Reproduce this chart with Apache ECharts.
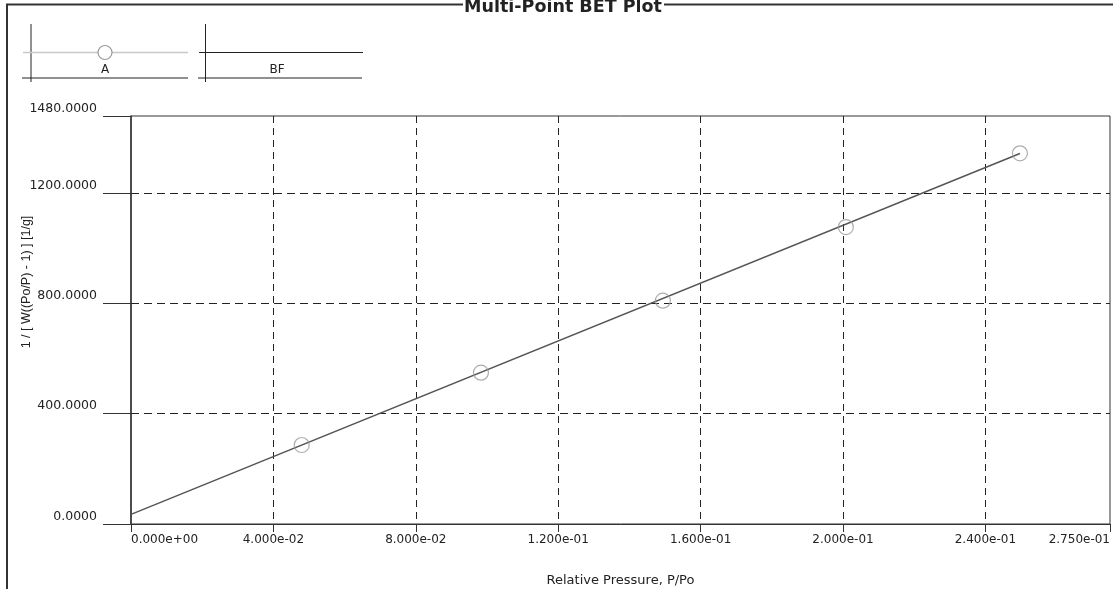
<!DOCTYPE html>
<html>
<head>
<meta charset="utf-8">
<title>Multi-Point BET Plot</title>
<script src="https://cdn.jsdelivr.net/npm/echarts@6/dist/echarts.min.js"></script>
<style>
  html, body { margin: 0; padding: 0; background: #ffffff; }
  #chart { width: 1113px; height: 589px; }
</style>
</head>
<body>
<div id="chart"></div>
<script>
// Measured points (series A): relative pressure vs 1 / [W((Po/P) - 1)]
const pressure = [0.04795, 0.0983, 0.1494, 0.2008, 0.2497];
const invW = [286.5, 548.8, 810.0, 1077.0, 1344.6];

// BET fit line (series BF), from P/Po = 0 to the last measured point
const bfX = [0, 0.2497];
const bfY = [35, 1344];

// Axis ranges
const xMin = 0, xMax = 0.275, xStep = 0.04;
const yMin = 0, yMax = 1480, yStep = 400;

const title = 'Multi-Point BET Plot';
const xName = 'Relative Pressure, P/Po';
const yName = '1 / [ W((Po/P) - 1) ] [1/g]';
const legendNames = ['A', 'BF'];

function sci(v) {
  // 4.000e-02 style, two-digit exponent with sign
  const s = Number(v).toExponential(3);
  const m = s.match(/^(-?[\d.]+)e([+-])(\d+)$/);
  if (!m) return s;
  const exp = m[3].length < 2 ? '0' + m[3] : m[3];
  return m[1] + 'e' + m[2] + exp;
}

const ink = '#333';
const labelFont = 'DejaVu Sans';

const chart = echarts.init(document.getElementById('chart'), null, { renderer: 'canvas' });

const option = {
  animation: false,
  backgroundColor: '#ffffff',
  grid: {
    left: 131, top: 116, right: 3, bottom: 65,
    containLabel: false,
    outerBoundsMode: 'none',
    show: true, borderColor: ink, borderWidth: 1, backgroundColor: 'transparent'
  },
  xAxis: {
    type: 'value',
    min: xMin, max: xMax, interval: xStep,
    name: xName,
    nameLocation: 'middle',
    nameGap: 50,
    nameTextStyle: { fontFamily: labelFont, fontSize: 13, color: '#222' },
    axisLine: { show: true, onZero: false, lineStyle: { color: ink, width: 1 } },
    axisTick: { show: true, inside: false, length: 8, lineStyle: { color: ink, width: 1 } },
    axisLabel: {
      fontFamily: labelFont, fontSize: 12, color: '#222', margin: 10,
      formatter: sci,
      alignMinLabel: 'left', alignMaxLabel: 'right',
      showMinLabel: true, showMaxLabel: true
    },
    splitLine: {
      show: true, showMinLine: false, showMaxLine: false,
      lineStyle: { color: '#222', width: 1, type: [7, 5] }
    }
  },
  yAxis: {
    type: 'value',
    min: yMin, max: yMax, interval: yStep,
    axisLine: { show: true, onZero: false, lineStyle: { color: ink, width: 1.5 } },
    axisTick: { show: true, inside: false, length: 28, lineStyle: { color: ink, width: 1 } },
    axisLabel: {
      fontFamily: labelFont, fontSize: 12.5, color: '#222', margin: 34,
      formatter: v => Number(v).toFixed(4),
      verticalAlign: 'bottom',
      lineHeight: 15,
      showMinLabel: true, showMaxLabel: true
    },
    splitLine: {
      show: true, showMinLine: false, showMaxLine: false,
      lineStyle: { color: '#222', width: 1, type: [8, 5] }
    }
  },
  series: [
    {
      name: legendNames[1],
      type: 'line',
      data: bfX.map((x, i) => [x, bfY[i]]),
      showSymbol: false,
      symbol: 'none',
      lineStyle: { color: '#555', width: 1.5 },
      z: 2
    },
    {
      name: legendNames[0],
      type: 'scatter',
      data: pressure.map((x, i) => [x, invW[i]]),
      symbol: 'circle',
      symbolSize: 15,
      itemStyle: { color: 'rgba(255,255,255,0)', borderColor: '#999', borderWidth: 1.2 },
      z: 3
    }
  ],
  graphic: [
    // enclosing group frame with the title set into its top edge
    { type: 'line', shape: { x1: 7, y1: 4.5, x2: 7, y2: 589 }, style: { stroke: ink, lineWidth: 2 }, silent: true },
    { type: 'line', shape: { x1: 6, y1: 4.5, x2: 463, y2: 4.5 }, style: { stroke: ink, lineWidth: 2 }, silent: true },
    { type: 'line', shape: { x1: 664, y1: 4.5, x2: 1113, y2: 4.5 }, style: { stroke: ink, lineWidth: 2 }, silent: true },
    {
      type: 'text', x: 563, y: 7, silent: true,
      style: {
        text: title, align: 'center', verticalAlign: 'middle',
        font: 'bold 17.5px "DejaVu Sans"', fill: '#222'
      }
    },
    // legend entry: A
    { type: 'line', shape: { x1: 31, y1: 24, x2: 31, y2: 82 }, style: { stroke: '#222', lineWidth: 1 }, silent: true },
    { type: 'line', shape: { x1: 23, y1: 52.5, x2: 188, y2: 52.5 }, style: { stroke: '#c8c8c8', lineWidth: 1.5 }, silent: true },
    { type: 'circle', shape: { cx: 105, cy: 52.5, r: 7 }, style: { stroke: '#999', fill: '#fff', lineWidth: 1.2 }, silent: true },
    { type: 'line', shape: { x1: 22, y1: 78, x2: 188, y2: 78 }, style: { stroke: '#222', lineWidth: 1 }, silent: true },
    {
      type: 'text', x: 105, y: 70, silent: true,
      style: { text: legendNames[0], align: 'center', verticalAlign: 'middle', font: '12px "DejaVu Sans"', fill: '#222' }
    },
    // legend entry: BF
    { type: 'line', shape: { x1: 205.5, y1: 24, x2: 205.5, y2: 82 }, style: { stroke: '#222', lineWidth: 1 }, silent: true },
    { type: 'line', shape: { x1: 199, y1: 52.5, x2: 363, y2: 52.5 }, style: { stroke: '#222', lineWidth: 1 }, silent: true },
    { type: 'line', shape: { x1: 198, y1: 78, x2: 362, y2: 78 }, style: { stroke: '#222', lineWidth: 1 }, silent: true },
    {
      type: 'text', x: 277, y: 70, silent: true,
      style: { text: legendNames[1], align: 'center', verticalAlign: 'middle', font: '12px "DejaVu Sans"', fill: '#222' }
    },
    // rotated y-axis title
    {
      type: 'text', x: 27, y: 282, rotation: Math.PI / 2, silent: true,
      style: { text: yName, align: 'center', verticalAlign: 'middle', font: '12.5px "Liberation Sans"', fill: '#222' }
    }
  ]
};

chart.setOption(option);
</script>
</body>
</html>
